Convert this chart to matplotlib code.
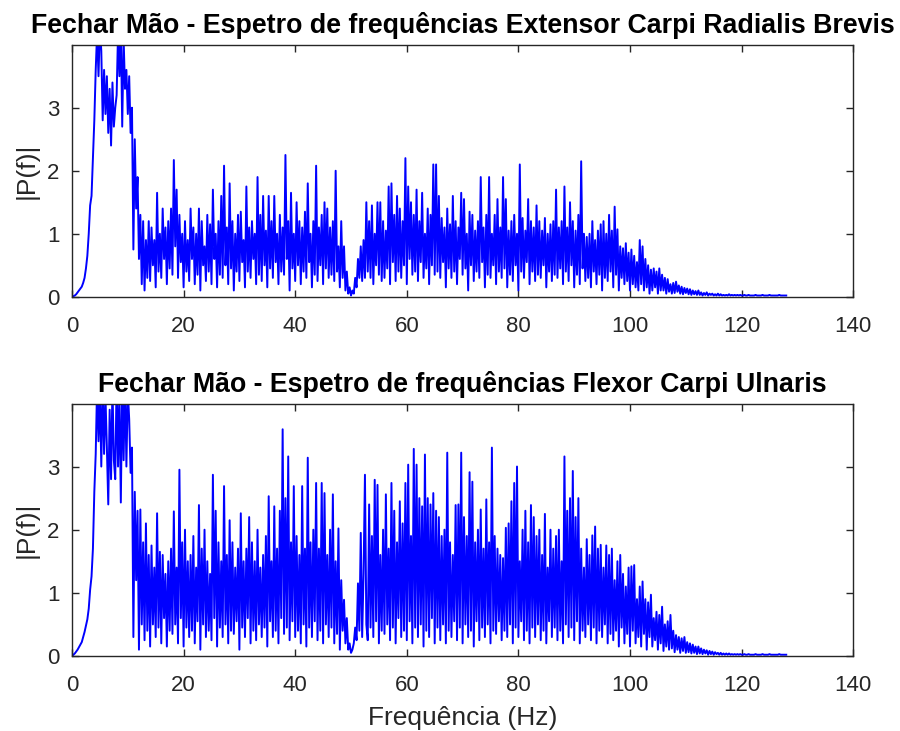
import numpy as np
import matplotlib
matplotlib.use("Agg")
import matplotlib.pyplot as plt

plt.rcParams['font.family'] = ['Liberation Sans', 'DejaVu Sans']

# Frequency step of the spectrum (Hz)
df = 0.25

# ---- Extensor Carpi Radialis Brevis |P(f)| (4 values per Hz) ----
ecrb_0_16 = [
    0.00, 0.01, 0.02, 0.04, 0.07, 0.10, 0.13, 0.16, 0.22, 0.30, 0.45, 0.65, 1.00, 1.45, 1.60, 2.20,
    2.80, 3.60, 4.20, 3.50, 4.30, 3.90, 2.80, 3.60, 2.90, 3.50, 2.60, 3.30, 2.40, 3.40, 2.70, 3.00,
    3.20, 4.20, 3.50, 4.30, 2.70, 4.10, 3.30, 3.60, 2.90, 3.50, 2.60, 3.00, 0.75, 2.50, 1.40, 1.90,
    0.60, 1.30, 0.20, 1.20, 0.10, 0.90, 0.30, 1.20, 0.25, 1.10, 0.50, 0.90, 0.15, 1.65, 0.40, 1.00,
]
ecrb_16_32 = [
    0.30, 1.40, 0.60, 1.10, 0.20, 1.20, 0.45, 1.40, 0.35, 2.17, 0.80, 1.70, 0.30, 1.30, 0.55, 1.00,
    0.15, 1.20, 0.40, 0.90, 0.25, 1.40, 0.60, 1.10, 0.20, 1.00, 0.35, 1.40, 0.10, 1.20, 0.50, 0.80,
    0.25, 1.30, 0.40, 1.15, 0.20, 1.70, 0.60, 1.00, 0.15, 1.20, 0.35, 1.60, 0.30, 2.08, 0.50, 1.10,
    0.20, 1.80, 0.45, 1.20, 0.10, 1.00, 0.40, 1.30, 0.25, 1.35, 0.55, 0.90, 0.15, 1.75, 0.40, 1.10,
]
ecrb_32_48 = [
    0.30, 1.20, 0.60, 1.00, 0.20, 1.90, 0.35, 1.30, 0.25, 1.60, 0.50, 1.05, 0.15, 1.60, 0.45, 1.20,
    0.30, 1.60, 0.55, 1.00, 0.20, 1.30, 0.40, 1.10, 0.35, 2.25, 0.60, 1.20, 0.10, 1.65, 0.45, 1.00,
    0.25, 1.50, 0.50, 1.20, 0.20, 1.10, 0.40, 1.35, 0.30, 1.80, 0.55, 1.00, 0.15, 1.20, 0.35, 2.08,
    0.25, 1.10, 0.50, 1.30, 0.20, 1.50, 0.45, 1.40, 0.30, 1.10, 0.35, 1.20, 0.25, 2.00, 0.40, 0.80,
]
ecrb_48_64 = [
    0.15, 1.20, 0.30, 0.80, 0.10, 0.40, 0.05, 0.15, 0.02, 0.10, 0.05, 0.30, 0.15, 0.60, 0.30, 0.80,
    0.25, 0.90, 0.30, 1.50, 0.40, 1.20, 0.30, 1.45, 0.20, 1.00, 0.50, 1.50, 0.35, 1.50, 0.25, 1.20,
    0.30, 1.05, 0.45, 1.75, 0.20, 1.80, 0.55, 1.30, 0.25, 1.60, 0.40, 1.40, 0.30, 1.20, 0.50, 2.20,
    0.20, 1.75, 0.60, 1.50, 0.35, 1.30, 0.40, 1.70, 0.25, 1.20, 0.55, 1.65, 0.30, 1.00, 0.45, 1.40,
]
ecrb_64_80 = [
    0.20, 1.30, 0.50, 2.10, 0.35, 2.10, 0.40, 1.60, 0.30, 1.25, 0.55, 1.10, 0.15, 1.40, 0.45, 1.15,
    0.30, 1.60, 0.40, 1.20, 0.20, 1.10, 0.60, 1.65, 0.35, 1.55, 0.45, 1.00, 0.10, 1.35, 0.50, 1.30,
    0.25, 1.05, 0.40, 1.20, 0.30, 1.90, 0.55, 1.10, 0.15, 1.30, 0.35, 1.90, 0.30, 1.00, 0.50, 1.30,
    0.20, 1.55, 0.40, 1.10, 0.30, 1.90, 0.45, 1.55, 0.15, 1.05, 0.35, 1.20, 0.25, 1.30, 0.50, 1.00,
]
ecrb_80_96 = [
    0.10, 2.10, 0.40, 1.25, 0.30, 1.05, 0.55, 1.55, 0.20, 1.20, 0.40, 1.10, 0.25, 1.45, 0.35, 1.20,
    0.30, 1.05, 0.50, 1.25, 0.15, 1.00, 0.40, 1.15, 0.25, 1.20, 0.35, 1.70, 0.30, 1.10, 0.45, 1.20,
    0.20, 1.75, 0.40, 1.10, 0.25, 1.50, 0.50, 1.20, 0.15, 1.05, 0.35, 1.30, 0.20, 2.15, 0.45, 1.00,
    0.25, 0.95, 0.30, 1.00, 0.15, 1.20, 0.40, 0.90, 0.20, 1.05, 0.35, 1.15, 0.10, 1.20, 0.30, 1.00,
]
ecrb_96_112 = [
    0.25, 1.30, 0.40, 1.05, 0.15, 1.43, 0.35, 1.07, 0.10, 0.80, 0.30, 0.77, 0.20, 0.85, 0.25, 0.70,
    0.10, 0.75, 0.20, 0.65, 0.15, 0.55, 0.10, 0.90, 0.20, 0.80, 0.10, 0.60, 0.15, 0.50, 0.05, 0.43,
    0.10, 0.45, 0.15, 0.40, 0.05, 0.45, 0.10, 0.35, 0.10, 0.30, 0.05, 0.28, 0.08, 0.20, 0.05, 0.22,
    0.06, 0.24, 0.08, 0.18, 0.05, 0.16, 0.04, 0.14, 0.06, 0.13, 0.04, 0.12, 0.03, 0.10, 0.04, 0.09,
]
ecrb_112_128 = [
    0.03, 0.10, 0.03, 0.07, 0.02, 0.06, 0.03, 0.07, 0.02, 0.05, 0.03, 0.05, 0.02, 0.04, 0.02, 0.05,
    0.02, 0.04, 0.02, 0.03, 0.02, 0.03, 0.02, 0.04, 0.02, 0.03, 0.02, 0.03, 0.02, 0.03, 0.02, 0.03,
    0.02, 0.02, 0.03, 0.02, 0.02, 0.03, 0.02, 0.02, 0.02, 0.02, 0.03, 0.02, 0.02, 0.02, 0.02, 0.03,
    0.02, 0.02, 0.02, 0.02, 0.03, 0.02, 0.02, 0.02, 0.02, 0.02, 0.02, 0.03, 0.02, 0.02, 0.02, 0.02,
    0.02,
]

# ---- Flexor Carpi Ulnaris |P(f)| (4 values per Hz) ----
fcu_0_16 = [
    0.00, 0.02, 0.04, 0.07, 0.10, 0.14, 0.18, 0.22, 0.30, 0.38, 0.48, 0.58, 0.75, 1.05, 1.26, 1.70,
    2.60, 3.20, 4.30, 3.40, 4.20, 3.00, 4.40, 3.20, 4.10, 3.30, 2.40, 3.90, 2.80, 4.30, 3.10, 2.80,
    4.40, 3.00, 4.20, 2.43, 4.30, 3.10, 4.40, 3.00, 4.20, 3.75, 2.90, 3.30, 0.30, 2.60, 1.20, 2.30,
    0.10, 2.32, 0.50, 1.80, 0.25, 2.10, 0.40, 1.60, 0.15, 1.75, 0.50, 1.40, 0.30, 2.26, 0.45, 1.65,
]
fcu_16_32 = [
    0.20, 1.60, 0.60, 1.30, 0.15, 1.50, 0.40, 1.70, 0.35, 2.29, 0.50, 1.40, 0.20, 2.95, 0.60, 1.80,
    0.15, 2.00, 0.45, 1.50, 0.30, 1.60, 0.40, 1.90, 0.20, 1.40, 0.55, 2.39, 0.10, 1.70, 0.50, 2.00,
    0.30, 1.50, 0.40, 1.30, 0.25, 2.87, 0.60, 2.30, 0.15, 1.80, 0.45, 1.50, 0.30, 2.69, 0.50, 1.60,
    0.20, 2.15, 0.40, 1.80, 0.35, 1.40, 0.55, 1.70, 0.10, 2.26, 0.45, 1.50, 0.30, 1.70, 0.60, 2.20,
]
fcu_32_48 = [
    0.20, 1.80, 0.40, 1.50, 0.25, 2.00, 0.50, 1.40, 0.30, 1.60, 0.45, 1.90, 0.15, 2.53, 0.55, 1.50,
    0.30, 2.37, 0.40, 1.70, 0.20, 2.30, 0.60, 3.59, 0.35, 2.50, 0.45, 3.16, 0.25, 1.80, 0.55, 2.69,
    0.30, 1.90, 0.40, 1.60, 0.20, 2.69, 0.50, 1.70, 0.15, 3.14, 0.45, 1.80, 0.30, 2.00, 0.55, 2.74,
    0.25, 1.70, 0.40, 2.74, 0.20, 2.58, 0.50, 1.60, 0.30, 2.00, 0.45, 2.56, 0.20, 1.50, 0.35, 2.02,
]
fcu_48_64 = [
    0.10, 1.20, 0.40, 0.89, 0.20, 0.60, 0.10, 0.20, 0.05, 0.10, 0.20, 0.45, 0.25, 1.15, 0.40, 1.95,
    0.30, 1.30, 2.87, 0.50, 0.25, 2.40, 0.45, 1.90, 0.30, 2.79, 0.55, 2.71, 0.20, 1.60, 0.40, 2.00,
    0.35, 2.56, 0.50, 1.70, 0.25, 2.74, 0.45, 2.30, 0.20, 1.80, 0.60, 2.45, 0.30, 2.10, 0.40, 2.74,
    0.25, 3.03, 0.55, 1.90, 0.20, 3.28, 0.45, 3.03, 0.30, 2.50, 0.50, 2.37, 0.15, 3.19, 0.40, 2.50,
]
fcu_64_80 = [
    0.30, 2.40, 0.60, 2.58, 0.20, 2.30, 0.45, 2.20, 0.25, 1.90, 0.50, 2.00, 0.20, 3.22, 0.40, 1.80,
    0.30, 1.60, 0.55, 2.39, 0.25, 2.40, 0.45, 3.22, 0.20, 2.20, 0.50, 1.90, 0.30, 2.91, 0.40, 2.76,
    0.15, 1.80, 0.55, 2.00, 0.25, 2.32, 0.45, 1.70, 0.30, 2.48, 0.50, 1.80, 0.20, 3.30, 0.40, 1.90,
    0.35, 1.70, 0.55, 1.60, 0.25, 1.55, 0.40, 2.03, 0.30, 2.10, 0.50, 2.45, 0.20, 2.74, 0.45, 3.00,
]
fcu_80_96 = [
    0.30, 1.50, 0.55, 2.00, 0.25, 2.30, 0.40, 1.80, 0.20, 2.39, 0.45, 2.20, 0.30, 1.90, 0.50, 2.00,
    0.25, 1.60, 0.40, 2.25, 0.20, 1.40, 0.55, 2.00, 0.30, 1.70, 0.45, 1.90, 0.25, 2.00, 0.40, 1.50,
    0.20, 3.16, 0.50, 2.30, 0.30, 2.50, 0.45, 2.93, 0.25, 2.20, 0.55, 2.50, 0.20, 1.70, 0.40, 1.40,
    0.30, 1.85, 0.50, 1.60, 0.25, 1.91, 0.45, 2.05, 0.20, 1.70, 0.40, 1.76, 0.30, 1.40, 0.50, 1.75,
]
fcu_96_112 = [
    0.20, 1.60, 0.35, 1.70, 0.25, 1.20, 0.40, 1.50, 0.15, 1.60, 0.45, 1.30, 0.20, 1.10, 0.35, 1.40,
    0.15, 1.42, 0.40, 1.44, 0.20, 0.90, 0.30, 1.10, 0.15, 1.18, 0.35, 0.90, 0.10, 0.85, 0.30, 0.97,
    0.15, 0.60, 0.25, 0.70, 0.10, 0.65, 0.20, 0.78, 0.08, 0.50, 0.15, 0.55, 0.10, 0.65, 0.12, 0.40,
    0.06, 0.33, 0.10, 0.30, 0.05, 0.28, 0.08, 0.30, 0.05, 0.22, 0.06, 0.20, 0.04, 0.18, 0.05, 0.15,
]
fcu_112_128 = [
    0.03, 0.15, 0.04, 0.12, 0.03, 0.10, 0.04, 0.09, 0.02, 0.08, 0.03, 0.07, 0.02, 0.06, 0.03, 0.05,
    0.02, 0.05, 0.02, 0.04, 0.02, 0.04, 0.02, 0.04, 0.02, 0.03, 0.02, 0.03, 0.02, 0.03, 0.02, 0.03,
    0.02, 0.02, 0.03, 0.02, 0.02, 0.03, 0.02, 0.02, 0.02, 0.02, 0.03, 0.02, 0.02, 0.02, 0.02, 0.03,
    0.02, 0.02, 0.02, 0.02, 0.03, 0.02, 0.02, 0.02, 0.02, 0.02, 0.02, 0.03, 0.02, 0.02, 0.02, 0.02,
    0.02,
]

ecrb = np.array(ecrb_0_16 + ecrb_16_32 + ecrb_32_48 + ecrb_48_64 +
                ecrb_64_80 + ecrb_80_96 + ecrb_96_112 + ecrb_112_128)
fcu = np.array(fcu_0_16 + fcu_16_32 + fcu_32_48 + fcu_48_64 +
               fcu_64_80 + fcu_80_96 + fcu_96_112 + fcu_112_128)
f_ecrb = np.arange(len(ecrb)) * df
f_fcu = np.arange(len(fcu)) * df

titles = ["Fechar Mão - Espetro de frequências Extensor Carpi Radialis Brevis",
          "Fechar Mão - Espetro de frequências Flexor Carpi Ulnaris"]
xticks = [0, 20, 40, 60, 80, 100, 120, 140]
yticks = [0, 1, 2, 3]
ylabel = "|P(f)|"
xlabel = "Frequência (Hz)"

axcol = "#262626"
fig = plt.figure(figsize=(9.0, 7.31), dpi=100)
ax1 = fig.add_axes([0.080, 0.594, 0.868, 0.344])
ax2 = fig.add_axes([0.080, 0.1026, 0.868, 0.3447])

for ax, f, p, t in [(ax1, f_ecrb, ecrb, titles[0]), (ax2, f_fcu, fcu, titles[1])]:
    ax.plot(f, p, color=(0, 0, 1), lw=1.4)
    ax.set_xlim(0, 140)
    ax.set_ylim(0, 3.99)
    ax.set_xticks(xticks)
    ax.set_yticks(yticks)
    ax.tick_params(direction='in', length=5, width=1.0, colors=axcol,
                   labelsize=16, top=True, right=True)
    ax.tick_params(axis='x', pad=14)
    ax.tick_params(axis='y', pad=9)
    for s in ax.spines.values():
        s.set_color(axcol)
        s.set_linewidth(1.0)
    ax.set_title(t, fontsize=19.3, fontweight='bold', color='black', pad=9)
    ax.set_ylabel(ylabel, fontsize=19, color=axcol, labelpad=6)

ax2.set_xlabel(xlabel, fontsize=19, color=axcol, labelpad=7)

fig.savefig("out.png", dpi=100)
